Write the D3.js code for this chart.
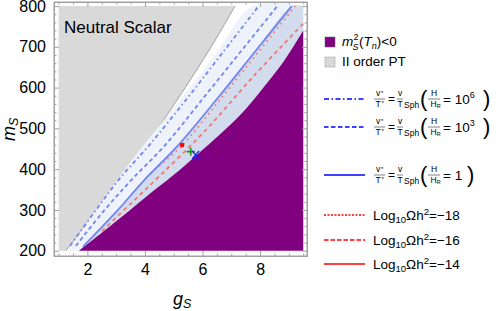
<!DOCTYPE html>
<html>
<head>
<meta charset="utf-8">
<script src="https://cdn.jsdelivr.net/npm/d3@7/dist/d3.min.js"></script>
<style>
  body { margin: 0; background: #fff; }
  text { font-family: "Liberation Sans", Arial, sans-serif; fill: #000; }
</style>
</head>
<body>
<div id="main-container"></div>
<script>
var width = 498,
    height = 311

// boundaries in (gS, mS)
var grayEdge = [[1.25,200],[2.35,300],[3.45,400],[4.45,500],[5.4,600],[6.3,700],[7.13,800]]
var lightEdge = [[1.3,200],[2.2,290],[3.0,370],[3.95,459],[5.25,572],[6.5,686],[7.75,800]]
var purpleEdge = [[1.71,200],[3,272],[4,330],[5.0,386],[5.8,435],[6.6,485],[7.3,532],[8.0,590],[8.8,662],[9.5,740]]

var blueSolid = [[1.85,210],[3.0,295],[4.0,375],[5.16,459],[6.5,572],[7.8,686],[9.1,800]]
var blueDashed = [[1.6,212],[2.6,300],[3.55,375],[4.7,459],[6.0,572],[7.3,686],[8.6,800]]
var blueDashDot = [[1.4,212],[2.3,300],[3.1,375],[4.15,459],[5.45,572],[6.7,686],[7.95,800]]
var redDotted = [[4.2,390],[5.3,459],[6.62,572],[7.92,686],[9.22,800]]
var redDashed = [[2.5,248],[3.5,315],[4.55,386],[6.09,494],[7.8,630],[9.5,757]]

var markRed = [5.29, 459]
var markGreen = [5.59, 443]
var markBlue = [5.76, 435]

var xMajor = [2,4,6,8]
var yMajor = [200,300,400,500,600,700,800]

var svg = d3.select("#main-container").append("svg")
  .attr("width", width)
  .attr("height", height)

var xs = d3.scaleLinear().domain([0.84, 9.63]).range([54, 307])
var ys = d3.scaleLinear().domain([187, 810]).range([256, 2])

var line = d3.line()
  .x(function(d){ return xs(d[0]) })
  .y(function(d){ return ys(d[1]) })
  .curve(d3.curveCatmullRom)

var plot = svg.append("g").attr("class","plot")

// gray region (II order PT)
var grayPoly = [[1,200]].concat(grayEdge).concat([[1,800]])
plot.append("path")
  .attr("d", d3.line().x(function(d){return xs(d[0])}).y(function(d){return ys(d[1])})(grayPoly) + "Z")
  .attr("fill", "#d9d9d9")
plot.append("path")
  .attr("d", line(grayEdge))
  .attr("fill", "none").attr("stroke", "#8a8a8a").attr("stroke-width", 0.8)

function band(left) {
  var pts = left.slice()
  pts.push([9.5,800])
  return line(pts) + "L" + line(purpleEdge.slice().reverse()).slice(1) + "Z"
}
plot.append("path").attr("d", band(lightEdge)).attr("fill", "#eef2fa")
plot.append("path").attr("d", band(blueSolid)).attr("fill", "#d2dcec")

// purple region
plot.append("path")
  .attr("d", line(purpleEdge) + "L" + xs(9.5) + "," + ys(200) + "Z")
  .attr("fill", "#800080")

// contour lines
var lines = [
  {d: redDashed, c: "#ee7878", dash: "4,3.5"},
  {d: redDotted, c: "#ee7878", dash: "1.5,4"},
  {d: blueDashDot, c: "#7384f0", dash: "4,3,1.5,3"},
  {d: blueDashed, c: "#7384f0", dash: "4,3"},
  {d: blueSolid, c: "#7384f0", dash: null}
]
plot.selectAll(".cline").data(lines).enter().append("path")
  .attr("class","cline")
  .attr("d", function(d){ return line(d.d) })
  .attr("fill","none")
  .attr("stroke", function(d){ return d.c })
  .attr("stroke-width", 1.8)
  .attr("stroke-dasharray", function(d){ return d.dash })

// markers
plot.append("circle").attr("cx", xs(markRed[0])).attr("cy", ys(markRed[1])).attr("r", 2.3).attr("fill", "#ff0000")
var gx = xs(markGreen[0]), gy = ys(markGreen[1])
plot.append("path").attr("d", "M"+(gx-4)+","+gy+"H"+(gx+4)+"M"+gx+","+(gy-4)+"V"+(gy+4))
  .attr("stroke", "#1f8f1f").attr("stroke-width", 1.6)
var bx = xs(markBlue[0]), by = ys(markBlue[1])
plot.append("path").attr("d", "M"+(bx-3.5)+","+(by-4)+"L"+(bx+3.5)+","+(by+4)+"M"+(bx+3.5)+","+(by-4)+"L"+(bx-3.5)+","+(by+4))
  .attr("stroke", "#1a1aff").attr("stroke-width", 1.4)

plot.append("text").attr("x", 64).attr("y", 33).attr("font-size", 17).text("Neutral Scalar")

// frame + ticks
var xMinor = d3.range(1, 9.51, 0.5).filter(function(v){ return v % 2 != 0 })
var yMinor = d3.range(200, 801, 20).filter(function(v){ return v % 100 != 0 })

function styleAxis(g) {
  g.selectAll("path.domain").attr("stroke", "#a0a0a0")
  g.selectAll("line").attr("stroke", "#a0a0a0")
  g.attr("font-size", 16).attr("font-family", "Liberation Sans, Arial, sans-serif")
}
var axes = [
  {a: d3.axisBottom(xs).tickValues(xMajor), t: "translate(0,256)", lab: true, n: 5},
  {a: d3.axisBottom(xs).tickValues(xMinor), t: "translate(0,256)", lab: false, n: 2.5},
  {a: d3.axisTop(xs).tickValues(xMajor), t: "translate(0,2)", lab: false, n: 5},
  {a: d3.axisTop(xs).tickValues(xMinor), t: "translate(0,2)", lab: false, n: 2.5},
  {a: d3.axisLeft(ys).tickValues(yMajor), t: "translate(54,0)", lab: true, n: 5},
  {a: d3.axisLeft(ys).tickValues(yMinor), t: "translate(54,0)", lab: false, n: 2.5},
  {a: d3.axisRight(ys).tickValues(yMajor), t: "translate(307,0)", lab: false, n: 5},
  {a: d3.axisRight(ys).tickValues(yMinor), t: "translate(307,0)", lab: false, n: 2.5}
]
axes.forEach(function(o){
  o.a.tickSizeInner(-o.n).tickSizeOuter(0).tickPadding(o.lab ? 8 : 0)
  if (!o.lab) o.a.tickFormat("")
  var g = svg.append("g").attr("transform", o.t).call(o.a)
  styleAxis(g)
})
svg.append("rect").attr("x",54).attr("y",2).attr("width",253).attr("height",254)
  .attr("fill","none").attr("stroke","#a0a0a0").attr("stroke-width",1)

// axis labels
var xl = svg.append("text").attr("x", 173).attr("y", 305).attr("font-size", 18)
xl.append("tspan").attr("font-style","italic").text("g")
xl.append("tspan").attr("font-style","italic").attr("font-size", 12.5).attr("dy", 3).text("S")
var yl = svg.append("text").attr("transform", "translate(15,141) rotate(-90)").attr("font-size", 18)
yl.append("tspan").attr("font-style","italic").text("m")
yl.append("tspan").attr("font-style","italic").attr("font-size", 12.5).attr("dy", 3).text("S")

// legend
var leg = svg.append("g").attr("class","legend")
leg.append("rect").attr("x",325).attr("y",37).attr("width",10).attr("height",10).attr("fill","#800080").attr("stroke","#666").attr("stroke-width",0.5)
leg.append("rect").attr("x",325).attr("y",57).attr("width",10).attr("height",10).attr("fill","#d9d9d9").attr("stroke","#999").attr("stroke-width",0.5)
leg.append("text").attr("x",342).attr("y",46).attr("font-size",13.5).attr("font-style","italic").text("m")
leg.append("text").attr("x",353.5).attr("y",40).attr("font-size",9).text("2")
leg.append("text").attr("x",352.5).attr("y",49.5).attr("font-size",9).attr("font-style","italic").text("S")
var t1 = leg.append("text").attr("x",359).attr("y",46).attr("font-size",13.5)
t1.append("tspan").text("(")
t1.append("tspan").attr("font-style","italic").text("T")
t1.append("tspan").attr("font-style","italic").attr("font-size",9).attr("dy",3).text("n")
t1.append("tspan").attr("dy",-3).text(")<0")
leg.append("text").attr("x",342).attr("y",66).attr("font-size",13.5).text("II order PT")

var legLines = [
  {y: 99, c: "#0000ff", dash: "5,2.5,1.5,2.5", exp: "6"},
  {y: 127, c: "#0000ff", dash: "4.5,2.5", exp: "3"},
  {y: 175, c: "#0000ff", dash: null, exp: null}
]
legLines.forEach(function(o){
  leg.append("line").attr("x1",324).attr("x2",365).attr("y1",o.y).attr("y2",o.y)
    .attr("stroke",o.c).attr("stroke-width",1.6).attr("stroke-dasharray",o.dash)
  var g = leg.append("g").attr("transform","translate(0,"+o.y+")")
  g.append("text").attr("x",378).attr("y",-3).attr("font-size",8.5).attr("text-anchor","middle").text("v")
  g.append("text").attr("x",381).attr("y",-4).attr("font-size",6).text("*")
  g.append("line").attr("x1",374).attr("x2",385).attr("y1",0).attr("y2",0).attr("stroke","#000").attr("stroke-width",0.5)
  g.append("text").attr("x",378).attr("y",8).attr("font-size",8.5).attr("text-anchor","middle").text("T")
  g.append("text").attr("x",381.5).attr("y",6).attr("font-size",6).text("*")
  g.append("text").attr("x",391.5).attr("y",4).attr("font-size",12).attr("text-anchor","middle").text("=")
  g.append("text").attr("x",400).attr("y",-3).attr("font-size",8.5).attr("text-anchor","middle").text("v")
  g.append("line").attr("x1",397).attr("x2",403).attr("y1",0).attr("y2",0).attr("stroke","#000").attr("stroke-width",0.5)
  g.append("text").attr("x",400).attr("y",8).attr("font-size",8.5).attr("text-anchor","middle").text("T")
  g.append("text").attr("x",404).attr("y",9).attr("font-size",8.5).text("Sph")
  g.append("text").attr("x",420).attr("y",6.5).attr("font-size",22).attr("font-weight",100).text("(")
  g.append("text").attr("x",434).attr("y",-3).attr("font-size",8.5).attr("text-anchor","middle").text("H")
  g.append("line").attr("x1",428).attr("x2",440).attr("y1",0).attr("y2",0).attr("stroke","#000").attr("stroke-width",0.5)
  var hr = g.append("text").attr("x",430.5).attr("y",8).attr("font-size",8.5)
  hr.append("tspan").text("H")
  hr.append("tspan").attr("font-size",5.5).attr("dy",1).text("R")
  var eq = g.append("text").attr("x",443).attr("y",4.5).attr("font-size",13.5)
  if (o.exp) {
    eq.append("tspan").text("= 10")
    eq.append("tspan").attr("font-size",9).attr("dy",-5.5).text(o.exp)
    g.append("text").attr("x",483).attr("y",6.5).attr("font-size",22).attr("font-weight",100).text(")")
  } else {
    eq.append("tspan").text("= 1")
    g.append("text").attr("x",467).attr("y",6.5).attr("font-size",22).attr("font-weight",100).text(")")
  }
})

var redLeg = [
  {y: 215, dash: "2,1.5", v: "−18"},
  {y: 240, dash: "4.5,2", v: "−16"},
  {y: 264, dash: null, v: "−14"}
]
redLeg.forEach(function(o){
  leg.append("line").attr("x1",324).attr("x2",365).attr("y1",o.y).attr("y2",o.y)
    .attr("stroke","#ff0000").attr("stroke-width",1.6).attr("stroke-dasharray",o.dash)
  var t = leg.append("text").attr("x",373).attr("y",o.y+4.5).attr("font-size",13.5)
  t.append("tspan").text("Log")
  t.append("tspan").attr("font-size",9.5).attr("dy",3).text("10")
  t.append("tspan").attr("dy",-3).text("Ωh")
  t.append("tspan").attr("font-size",9.5).attr("dy",-5).text("2")
  t.append("tspan").attr("dy",5).text("=" + o.v)
})
</script>
</body>
</html>
